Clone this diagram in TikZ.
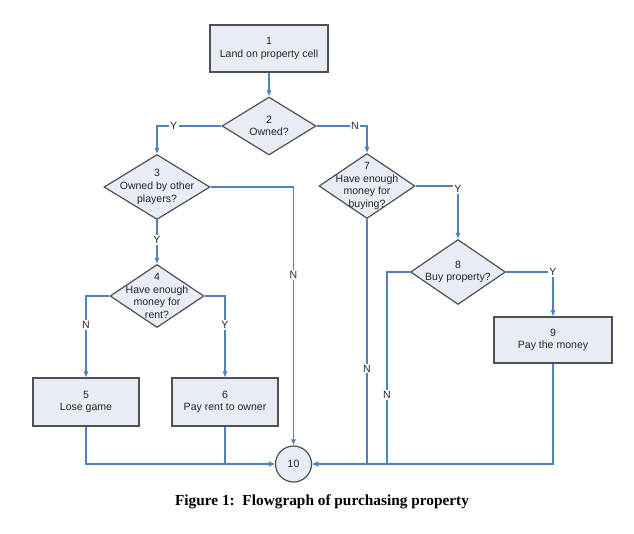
\documentclass[tikz,border=0pt]{standalone}
\usepackage{fontspec}
\setmainfont{Liberation Sans}
\newfontfamily\capfont{Liberation Serif}
\usetikzlibrary{shapes.geometric,arrows.meta}
\definecolor{linec}{RGB}{79,129,189}
\definecolor{boxfill}{RGB}{232,236,244}
\definecolor{boxdraw}{RGB}{80,80,80}
\tikzset{
  x=0.75pt, y=-0.75pt,
  txt/.style={font=\fontsize{7.9pt}{9.5pt}\selectfont, align=center, text=black!85},
  procbox/.style={rectangle, draw=boxdraw, line width=0.9pt, fill=boxfill, inner sep=0pt, txt},
  decbox/.style={diamond, draw=boxdraw, line width=0.9pt, fill=boxfill, inner sep=0pt},
  endcirc/.style={circle, draw=boxdraw, line width=0.9pt, fill=boxfill, inner sep=0pt, minimum size=27pt, txt},
  conn/.style={draw=linec, line width=0.8pt},
  arr/.style={conn, -{Latex[length=4.5pt,width=4pt]}},
  lbl/.style={font=\fontsize{7.9pt}{9.5pt}\selectfont, fill=white, inner sep=1pt, text=black!85}
}
\begin{document}
\begin{tikzpicture}
\useasboundingbox (0,0) rectangle (634,533);
% process boxes
\node[procbox, minimum width=88.5pt, minimum height=35.25pt] (n1) at (269,48.5) {1\\Land on property cell};
\node[procbox, minimum width=79.5pt, minimum height=36pt] (n5) at (86,402) {5\\Lose game};
\node[procbox, minimum width=79.5pt, minimum height=36pt] (n6) at (225,402) {6\\Pay rent to owner};
\node[procbox, minimum width=88.5pt, minimum height=34.5pt] (n9) at (553,340) {9\\Pay the money};
% decisions
\node[decbox, minimum width=70.5pt, minimum height=43.5pt,
  label={[txt]center:2\\Owned?}] (n2) at (269,126) {};
\node[decbox, minimum width=79.5pt, minimum height=48.75pt,
  label={[txt]center:3\\Owned by other\\players?}] (n3) at (157,187) {};
\node[decbox, minimum width=72pt, minimum height=48.75pt,
  label={[txt]center:7\\Have enough\\money for\\buying?}] (n7) at (367,186) {};
\node[decbox, minimum width=70.5pt, minimum height=47.25pt,
  label={[txt]center:4\\Have enough\\money for\\rent?}] (n4) at (157,296) {};
\node[decbox, minimum width=71.25pt, minimum height=48.75pt,
  label={[txt]center:8\\Buy property?}] (n8) at (458,272) {};
% end
\node[endcirc] (n10) at (293.5,464) {10};
\coordinate (j8) at (387,464);
% connectors
\draw[arr] (n1.south) -- (n2.north);
\draw[arr] (n2.west) -| node[lbl, pos=0.37] {Y} (n3.north);
\draw[arr] (n2.east) -| node[lbl, pos=0.38] {N} (n7.north);
\draw[arr] (n3.south) -- node[lbl, pos=0.45] {Y} (n4.north);
\draw[arr] (n3.east) -| node[lbl, pos=0.67] {N} (n10.north);
\draw[arr] (n4.west) -| node[lbl, pos=0.68] {N} (n5.north);
\draw[arr] (n4.east) -| node[lbl, pos=0.68] {Y} (n6.north);
\draw[arr] (n7.east) -| node[lbl, pos=0.53] {Y} (n8.north);
\draw[arr] (n8.east) -| node[lbl, pos=0.5] {Y} (n9.north);
\draw[arr] (n7.south) |- node[lbl, pos=0.305] {N} (n10.east);
\draw[arr] (n8.west) -| node[lbl, pos=0.82] {N} (j8) -- (n10.east);
\draw[arr] (n9.south) |- (n10.east);
\draw[arr] (n5.south) |- (n10.west);
\draw[arr] (n6.south) |- (n10.west);
% caption
\node[font=\capfont\bfseries\fontsize{11.5pt}{13pt}\selectfont] (cap) at (322,502) {Figure 1:\ \ Flowgraph of purchasing property};
\end{tikzpicture}
\end{document}
